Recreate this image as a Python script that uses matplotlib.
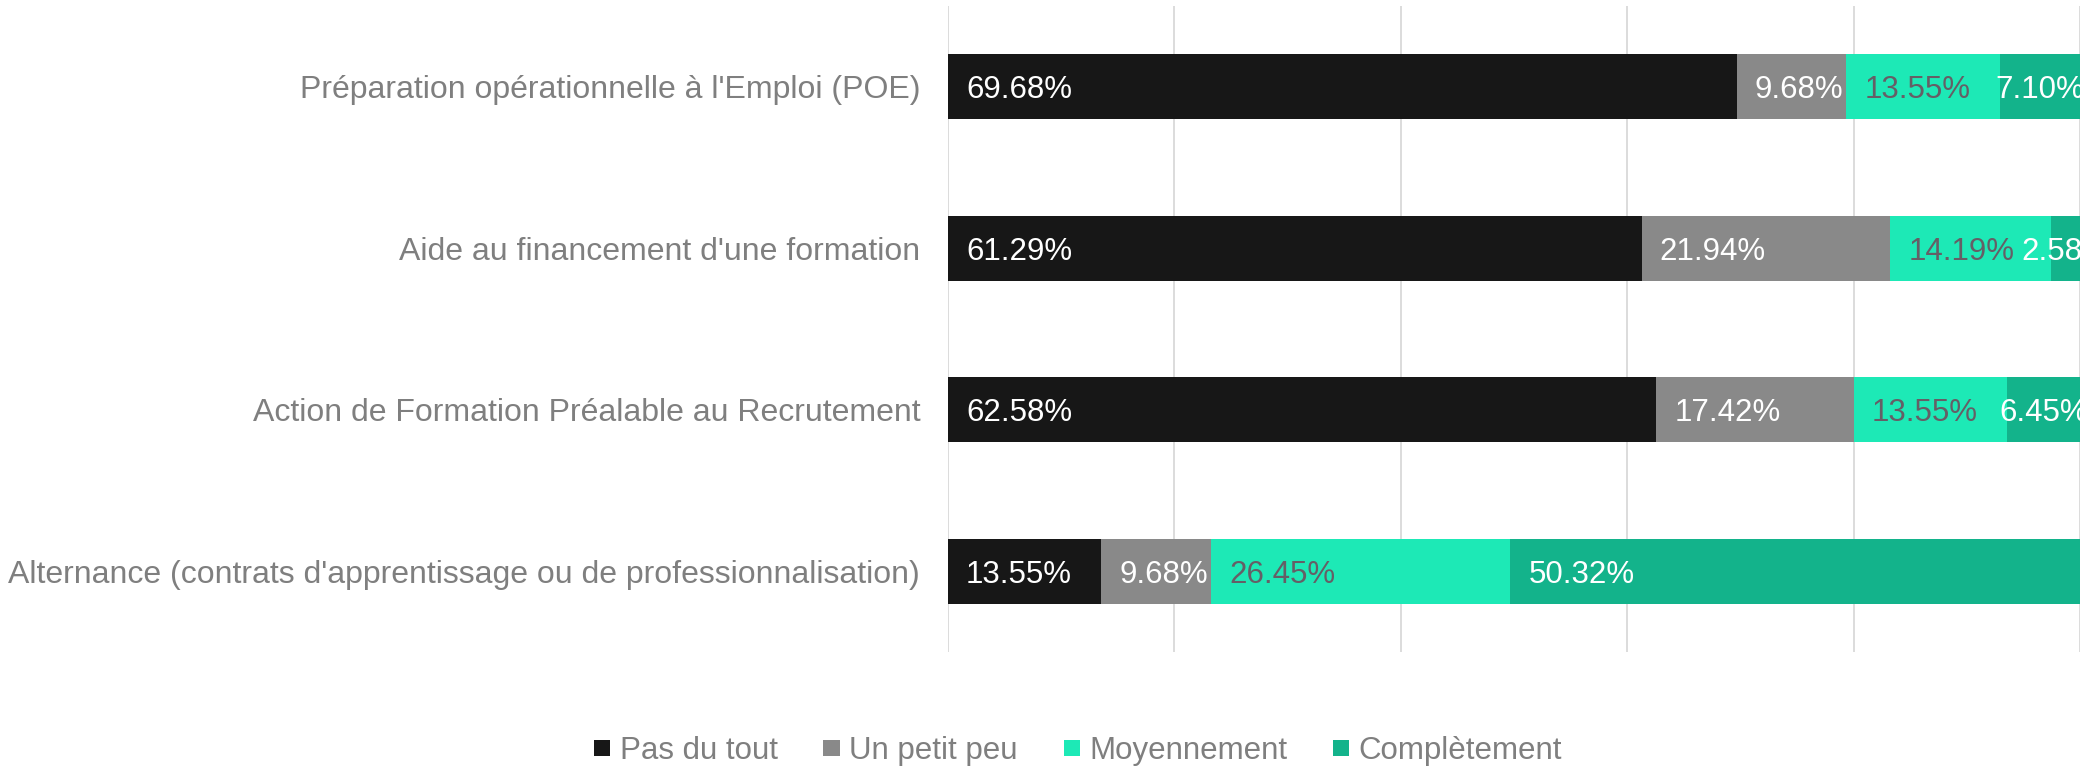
import matplotlib
matplotlib.use("Agg")
import matplotlib.pyplot as plt
import numpy as np

# ! data
categories = [
    "Préparation opérationnelle à l'Emploi (POE)",
    "Aide au financement d'une formation",
    "Action de Formation Préalable au Recrutement",
    "Alternance (contrats d'apprentissage ou de professionnalisation)",
]
series = ["Pas du tout", "Un petit peu", "Moyennement", "Complètement"]
pas_du_tout = [69.68, 61.29, 62.58, 13.55]
un_petit_peu = [9.68, 21.94, 17.42, 9.68]
moyennement = [13.55, 14.19, 13.55, 26.45]
completement = [7.10, 2.58, 6.45, 50.32]

colors = ["#171717", "#898989", "#1de9b6", "#13b38b"]
label_colors = ["white", "white", "#655f66", "white"]

plt.rcParams["font.family"] = ["Liberation Sans", "DejaVu Sans"]
fs = 22.5

fig = plt.figure(figsize=(20.87, 7.71), dpi=100)
ax = fig.add_axes([0.4542, 0.1543, 0.5424, 0.8379])
ax.set_xlim(0, 100)
ax.set_ylim(3.5, -0.5)

renderer = fig.canvas.get_renderer()
px_per_unit = ax.transData.transform((1, 0))[0] - ax.transData.transform((0, 0))[0]

y = np.arange(len(categories))
left = np.zeros(len(categories))
for name, vals, col, tcol in zip(series, [pas_du_tout, un_petit_peu, moyennement, completement], colors, label_colors):
    vals = np.array(vals)
    ax.barh(y, vals, left=left, height=0.4, color=col, label=name, zorder=2)
    for yi, l, v in zip(y, left, vals):
        t = ax.text(l + 1.6, yi, f"{v:.2f}%", color=tcol, fontsize=fs,
                    va="center_baseline", ha="left", clip_on=True, zorder=3)
        w = t.get_window_extent(renderer).width / px_per_unit
        # label wider than its segment -> centred on it (like Excel)
        if w > v:
            t.set_x(l + v / 2)
            t.set_ha("center")
    left = left + vals

ax.set_xticks(np.arange(0, 101, 20))
ax.set_xticklabels([])
ax.set_yticks(y)
ax.set_yticklabels(categories, fontsize=23, color="#7f7f7f")
ax.tick_params(axis="both", length=0)
ax.tick_params(axis="y", pad=20)
ax.grid(axis="x", color="#d9d9d9", lw=1.3, zorder=0)
ax.set_axisbelow(True)
for s in ax.spines.values():
    s.set_visible(False)

fig.legend(loc="center", bbox_to_anchor=(0.5166, 0.026), ncol=4, frameon=False,
           fontsize=fs, labelcolor="#7f7f7f", handlelength=0.52, handleheight=0.43,
           handletextpad=0.3, columnspacing=1.47)

fig.savefig("out.png", dpi=100)
